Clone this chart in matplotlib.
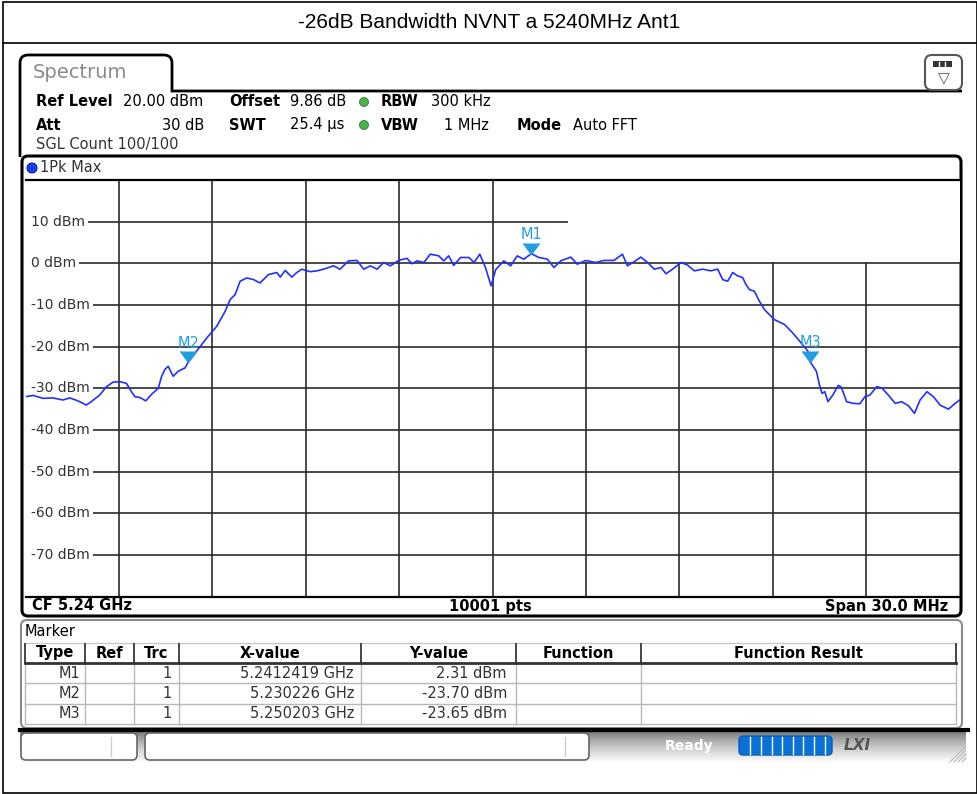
#!/usr/bin/env python

import numpy as np
import matplotlib
matplotlib.use("Agg")
import matplotlib.pyplot as plt
import matplotlib.transforms as mtransforms
from matplotlib.patches import FancyBboxPatch, Rectangle, Circle, PathPatch
from matplotlib.path import Path

plt.rcParams['font.family'] = ['DejaVu Sans']

title = "-26dB Bandwidth NVNT a 5240MHz Ant1"

# trace: offset from 5225 MHz (MHz) and level (dBm)
trace_offset_mhz = [
    0.0, 0.24, 0.56, 0.88, 1.2, 1.42, 1.68, 1.95, 2.11, 2.38, 2.6, 2.81, 3.03, 3.24,
    3.4, 3.51, 3.67, 3.86, 4.05, 4.26, 4.37, 4.47, 4.58, 4.74, 4.9, 5.12, 5.226, 5.49,
    5.82, 6.14, 6.41, 6.57, 6.73, 6.89, 7.1, 7.32, 7.53, 7.8, 8.07, 8.18, 8.34, 8.55,
    8.71, 8.87, 9.14, 9.36, 9.57, 9.89, 10.1, 10.37, 10.64, 10.86, 11.07, 11.29, 11.5,
    11.72, 11.98, 12.25, 12.41, 12.57, 12.79, 13.0, 13.27, 13.43, 13.59, 13.75, 13.97,
    14.24, 14.4, 14.59, 14.77, 14.95, 15.1, 15.36, 15.58, 15.79, 16.0, 16.2419, 16.49,
    16.76, 16.97, 17.19, 17.51, 17.72, 17.99, 18.31, 18.58, 18.9, 19.17, 19.33, 19.55,
    19.76, 19.98, 20.19, 20.41, 20.57, 20.78, 21.05, 21.26, 21.48, 21.75, 22.01, 22.23,
    22.39, 22.55, 22.71, 22.87, 23.03, 23.14, 23.25, 23.41, 23.57, 23.73, 24.05, 24.38,
    24.64, 24.91, 25.13, 25.203, 25.4, 25.5, 25.58, 25.67, 25.77, 25.93, 26.1, 26.2,
    26.37, 26.58, 26.8, 26.96, 27.12, 27.34, 27.5, 27.71, 27.93, 28.14, 28.36, 28.55,
    28.73, 28.95, 29.16, 29.37, 29.64, 29.86, 30.0]
trace_dbm = [
    -32.0, -31.7, -32.4, -32.3, -32.8, -32.3, -33.0, -34.0, -33.2, -31.6, -29.6, -28.5, -28.4, -28.8,
    -30.8, -32.0, -32.2, -33.0, -31.4, -30.0, -27.1, -25.5, -24.7, -27.1, -25.9, -25.1, -23.7, -21.1,
    -17.9, -15.1, -11.5, -8.7, -7.5, -4.3, -3.5, -3.9, -4.7, -2.7, -2.2, -3.3, -1.7, -3.3,
    -2.2, -1.4, -2.0, -1.8, -1.4, -0.6, -1.4, 0.6, 0.7, -1.4, -0.6, -1.4, 0.2,
    -0.6, 0.7, 1.2, -0.1, 0.6, 0.2, 2.2, 1.8, 0.6, 1.8, -0.5, 1.4,
    1.4, 0.2, 2.2, -1.0, -5.4, -1.5, 0.6, -0.6, 1.8, 1.0, 2.31, 1.4,
    1.0, -1.0, 0.6, 1.5, -0.2, 0.7, 0.2, 0.7, 0.7, 2.2, -0.6, 0.4,
    1.5, 0.2, -1.4, -1.0, -2.5, -1.4, 0.2, -0.4, -1.8, -1.4, -1.8, -1.4,
    -3.9, -4.3, -2.2, -3.0, -3.4, -5.1, -6.3, -6.7, -9.1, -11.1, -13.5, -14.7,
    -16.7, -19.1, -21.1, -23.65, -25.9, -29.2, -31.2, -30.8, -33.2, -31.6, -29.3, -29.7,
    -33.2, -33.6, -33.7, -32.0, -31.6, -29.6, -29.9, -31.6, -33.6, -33.2, -34.2, -36.0,
    -32.8, -30.8, -32.0, -34.0, -35.0, -33.6, -32.8]

start_mhz = 5225.0
span_mhz = 30.0
ref_level = 20
y_ticks = [10, 0, -10, -20, -30, -40, -50, -60, -70]

marker_names = ["M1", "M2", "M3"]
marker_freq_ghz = [5.2412419, 5.230226, 5.250203]
marker_dbm = [2.31, -23.70, -23.65]
marker_x_text = ["5.2412419 GHz", "5.230226 GHz", "5.250203 GHz"]
marker_y_text = ["2.31 dBm", "-23.70 dBm", "-23.65 dBm"]

table_headers = ["Type", "Ref", "Trc", "X-value", "Y-value", "Function", "Function Result"]

TRACE = '#2230ff'
MARK = '#229de0'
INK = '#222222'

fig = plt.figure(figsize=(9.78, 7.94), dpi=100)
bg = fig.add_axes([0, 0, 1, 1])
bg.set_autoscale_on(False)
bg.set_xlim(0, 978)
bg.set_ylim(794, 0)
bg.axis('off')


def txt(x, y, s, bold=False, ha='left', color='black', size=10.5, **kw):
    bg.text(x, y, s, ha=ha, va='center', color=color, fontsize=size,
            fontweight='bold' if bold else 'normal', **kw)


def rbox(x, y, w, h, r=6, **kw):
    p = FancyBboxPatch((x, y), w, h, boxstyle=f"round,pad=0,rounding_size={r}", **kw)
    bg.add_patch(p)
    return p


# page frame and title
bg.add_patch(Rectangle((2.5, 1.5), 974.5, 791.5, fc='none', ec='black', lw=1.2))
bg.plot([2.5, 977], [43, 43], color='black', lw=1.2)
bg.text(489, 22, title, ha='center', va='center', fontsize=15,
        family=['Liberation Sans', 'DejaVu Sans'])

# spectrum tab
verts = [(20, 157), (20, 63), (20, 55), (28, 55), (164, 55), (172, 55), (172, 63),
         (172, 91), (962, 91)]
codes = [Path.MOVETO, Path.LINETO, Path.CURVE3, Path.CURVE3, Path.LINETO,
         Path.CURVE3, Path.CURVE3, Path.LINETO, Path.LINETO]
bg.add_patch(PathPatch(Path(verts, codes), fc='none', ec='black', lw=2))
txt(33, 73, "Spectrum", color='#8a8a8a', size=14)

rbox(925, 55, 37, 35, r=7, fc='white', ec='#555555', lw=1.5)
bg.add_patch(Rectangle((933, 61), 19, 6, fc='#333333', ec='none'))
for xx in [939, 945]:
    bg.plot([xx, xx], [61.5, 66.5], color='white', lw=1)
txt(943.5, 79, "\u25bd", ha='center', color='#555555', size=11)

# settings block
txt(36, 102, "Ref Level", bold=True)
txt(123, 102, "20.00 dBm")
txt(229, 102, "Offset", bold=True)
txt(290, 102, "9.86 dB")
txt(381, 102, "RBW", bold=True)
txt(431, 102, "300 kHz")
txt(36, 125, "Att", bold=True)
txt(204, 125, "30 dB", ha='right')
txt(229, 125, "SWT", bold=True)
txt(290, 125, "25.4 \u00b5s")
txt(381, 125, "VBW", bold=True)
txt(489, 125, "1 MHz", ha='right')
txt(517, 125, "Mode", bold=True)
txt(573, 125, "Auto FFT")
txt(36, 145, "SGL Count 100/100", color='#333333')
for yy in [102, 125]:
    bg.add_patch(Circle((364, yy), 4.5, fc='#49b04c', ec='#2e7d32', lw=0.6))

# diagram panel
rbox(22, 156, 939, 460, r=6, fc='none', ec='black', lw=2.2, zorder=5)
bg.add_patch(Circle((32, 168), 5, fc='#1a3dff', ec='#10208a', lw=0.8))
txt(40, 168, "1Pk Max", color='#333333', size=10.5)
txt(32, 606, "CF 5.24 GHz", bold=True)
txt(490, 606, "10001 pts", bold=True, ha='center')
txt(948, 606, "Span 30.0 MHz", bold=True, ha='right')

ax = fig.add_axes([25.6 / 978, 1 - 596.7 / 794, 934 / 978, 416.7 / 794])
ax.set_xlim(start_mhz, start_mhz + span_mhz)
ax.set_ylim(ref_level - 100, ref_level)
ax.set_xticks(start_mhz + span_mhz / 10 * np.arange(1, 10))
ax.set_yticks(y_ticks)
ax.grid(True, color='#2b2b2b', lw=1.2)
ax.set_axisbelow(True)
ax.tick_params(length=0, labelbottom=False, labelleft=False)
ax.patch.set_alpha(0)
for side in ['left', 'right']:
    ax.spines[side].set_visible(False)
for side in ['top', 'bottom']:
    ax.spines[side].set_linewidth(1.6)

# marker readout area hides the grid
box_left = start_mhz + (568 - 25.6) / 934 * span_mhz
ax.add_patch(Rectangle((box_left, 0.35), start_mhz + span_mhz - box_left, ref_level - 0.35,
                       fc='white', ec='none', zorder=2))
# no grid stub left of the level labels
ax.add_patch(Rectangle((0, 0.002), 0.008, 0.996, transform=ax.transAxes,
                       fc='white', ec='none', zorder=2))

for v in y_ticks:
    ax.text(0.0058, v, f"{v} dBm", transform=ax.get_yaxis_transform(), ha='left', va='center',
            fontsize=10, color='#333333', zorder=2.5,
            bbox=dict(fc='white', ec='none', pad=2.0))

freq = start_mhz + np.array(trace_offset_mhz)
ax.plot(freq, trace_dbm, color=TRACE, lw=1.2, zorder=3)

mk_f = np.array(marker_freq_ghz) * 1000
ax.plot(mk_f, marker_dbm, ls='none', marker=7, ms=11, color=MARK, zorder=4)
lab_tr = mtransforms.offset_copy(ax.transData, fig=fig, x=0, y=19, units='dots')
for name, f, l in zip(marker_names, mk_f, marker_dbm):
    ax.text(f, l, name, transform=lab_tr, ha='center', va='center', color=MARK,
            fontsize=10.5, zorder=4)

txt(569, 191, "M1[1]", bold=True, color=MARK)
txt(957, 191, marker_y_text[0], bold=True, color=MARK, ha='right')
txt(957, 211, "%.8f GHz" % marker_freq_ghz[0], bold=True, color=MARK, ha='right')
txt(569, 233, "M2[1]", bold=True, color=MARK)
txt(957, 233, marker_y_text[1], bold=True, color=MARK, ha='right')
txt(957, 253, "5.23022600 GHz", bold=True, color=MARK, ha='right')

# marker table
rbox(21, 620, 941, 108, r=6, fc='white', ec='#8a8a8a', lw=1.5)
txt(25, 631, "Marker", color='black')
col_edges = [25, 85, 134, 179, 361, 516, 641, 956]
row_edges = [663, 683.3, 704, 724]
bg.plot([25, 956], [643, 643], color='#c8c8c8', lw=1)
for xx in col_edges:
    bg.plot([xx, xx], [644, 663], color='#444444', lw=1.4)
    bg.plot([xx, xx], [663, 724], color='#b8b8b8', lw=1)
for yy in row_edges[1:]:
    bg.plot([25, 956], [yy, yy], color='#b8b8b8', lw=1)
bg.plot([25, 956], [663, 663], color='#333333', lw=2)
for i, h in enumerate(table_headers):
    txt((col_edges[i] + col_edges[i + 1]) / 2, 653, h, bold=True, ha='center')
for r in range(3):
    yy = (row_edges[r] + row_edges[r + 1]) / 2
    txt(col_edges[1] - 5, yy, marker_names[r], ha='right', color='#333333')
    txt(col_edges[3] - 7, yy, "1", ha='right', color='#333333')
    txt(col_edges[4] - 7, yy, marker_x_text[r], ha='right', color='#333333')
    txt(col_edges[5] - 9, yy, marker_y_text[r], ha='right', color='#333333')

# status bar
grad = np.linspace(0, 1, 64) ** 0.6
grad = (0.38 + 0.6 * grad).reshape(-1, 1)
bg.imshow(grad, cmap='gray', vmin=0, vmax=1, extent=(20, 966, 762, 731),
          origin='upper', aspect='auto', zorder=1)
bg.plot([20, 968], [730, 730], color='black', lw=3, zorder=2)
rbox(21, 733, 116, 27, r=5, fc='white', ec='#666666', lw=1.2, zorder=2)
bg.plot([111, 111], [737, 756], color='#cccccc', lw=1, zorder=3)
rbox(145, 733, 444, 27, r=5, fc='white', ec='#666666', lw=1.2, zorder=2)
bg.plot([565, 565], [737, 756], color='#cccccc', lw=1, zorder=3)
txt(665, 746, "Ready", bold=True, color='white', size=10, zorder=3)
rbox(739, 736, 93, 19, r=4, fc='#0a72d6', ec='#0a5fb0', lw=1, zorder=2)
for xx in [750, 761, 771.5, 782, 792.5, 803, 814, 824.5]:
    bg.plot([xx, xx], [737, 754], color='white', lw=1, zorder=3)
txt(857, 745, "LXI", bold=True, color='#555555', size=11, ha='center', style='italic', zorder=3)
for k in range(4):
    bg.plot([950 + 4 * k, 966], [762, 746 + 4 * k], color='#bbbbbb', lw=0.8, zorder=3)

fig.savefig("out.png", dpi=100)
